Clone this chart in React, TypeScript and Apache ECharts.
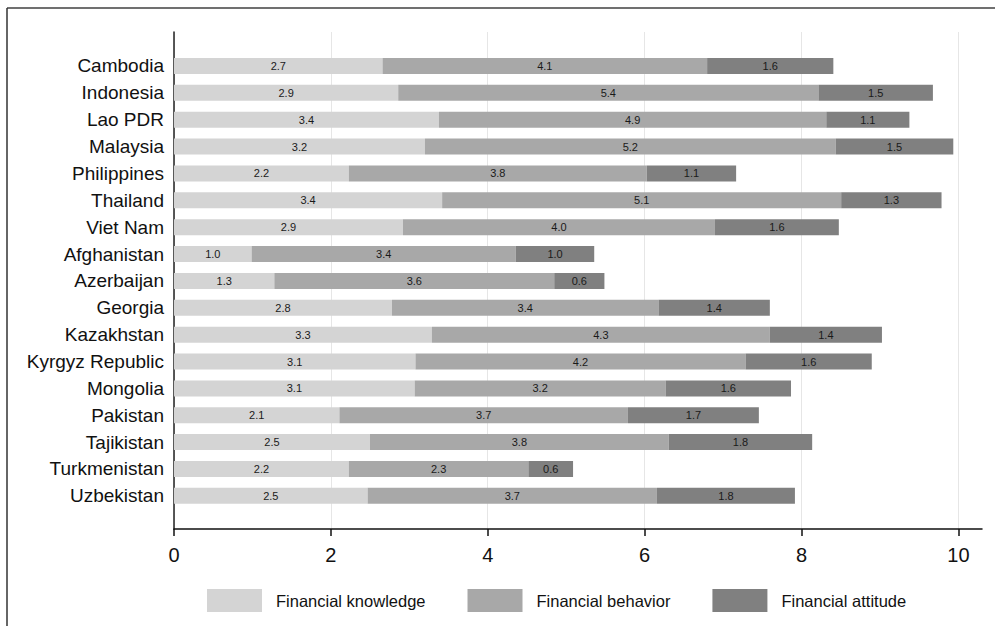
import React, { useEffect, useRef } from "react";
import * as echarts from "echarts";

const countries = [
  "Cambodia", "Indonesia", "Lao PDR", "Malaysia", "Philippines", "Thailand", "Viet Nam",
  "Afghanistan", "Azerbaijan", "Georgia", "Kazakhstan", "Kyrgyz Republic", "Mongolia",
  "Pakistan", "Tajikistan", "Turkmenistan", "Uzbekistan",
];
const knowledge = [2.66, 2.86, 3.38, 3.2, 2.23, 3.42, 2.92, 0.99, 1.28, 2.78, 3.29, 3.08, 3.07, 2.11, 2.5, 2.23, 2.47];
const behavior = [4.14, 5.36, 4.94, 5.24, 3.8, 5.09, 3.98, 3.37, 3.57, 3.4, 4.31, 4.21, 3.2, 3.68, 3.81, 2.29, 3.69];
const attitude = [1.61, 1.46, 1.06, 1.5, 1.14, 1.28, 1.58, 1.0, 0.64, 1.42, 1.43, 1.61, 1.6, 1.67, 1.83, 0.57, 1.76];
const seriesNames = ["Financial knowledge", "Financial behavior", "Financial attitude"];
const tickValues = [0, 2, 4, 6, 8, 10];

const FONT = "'Liberation Sans', Arial, Helvetica, sans-serif";
const colors = ["#d4d4d4", "#a8a8a8", "#808080"];

export default function App() {
  const ref = useRef<HTMLDivElement>(null);
  useEffect(() => {
    if (!ref.current) return;
    const chart = echarts.init(ref.current, undefined, { renderer: "svg" });
    const mkSeries = (name: string, data: number[], color: string) => ({
      name,
      type: "bar",
      stack: "total",
      xAxisIndex: 0,
      yAxisIndex: 0,
      barWidth: 16,
      data,
      itemStyle: { color },
      label: {
        show: true,
        position: "inside",
        fontSize: 11,
        fontFamily: FONT,
        color: "#1a1a1a",
        formatter: (p: any) => Number(p.value).toFixed(1),
      },
      emphasis: { disabled: true },
    });
    chart.setOption({
      animation: false,
      backgroundColor: "#ffffff",
      textStyle: { fontFamily: FONT },
      grid: [
        { left: 174, width: 784, top: 52.5, height: 456.8 },
        { left: 174, width: 784, top: 32, height: 497 },
        { left: 174, width: 808, top: 32, height: 497 },
      ],
      xAxis: [
        { type: "value", gridIndex: 0, min: 0, max: 10, show: false },
        {
          type: "value", gridIndex: 1, min: 0, max: 10, interval: 2,
          axisLine: { show: false }, axisTick: { show: false }, axisLabel: { show: false },
          splitLine: { show: true, lineStyle: { color: "#e6e6e6", width: 1 } },
        },
        {
          type: "value", gridIndex: 2, min: 0, max: 10.3, interval: 2,
          axisLine: { show: true, onZero: false, lineStyle: { color: "#111", width: 1.5 } },
          axisTick: { show: true, length: 7, customValues: tickValues, lineStyle: { color: "#111", width: 1.5 } },
          axisLabel: {
            show: true, customValues: tickValues, fontSize: 20, margin: 16, color: "#111", fontFamily: FONT,
            formatter: (v: number) => (Math.abs(v % 2) < 1e-9 ? String(v) : ""),
          },
          splitLine: { show: false },
        },
      ],
      yAxis: [
        {
          type: "category", gridIndex: 0, data: countries, inverse: true,
          axisLine: { show: false }, axisTick: { show: false },
          axisLabel: { fontSize: 19, margin: 10, color: "#111", fontFamily: FONT },
        },
        { type: "value", gridIndex: 1, min: 0, max: 1, show: false },
        {
          type: "value", gridIndex: 2, min: 0, max: 1,
          axisLine: { show: true, onZero: false, lineStyle: { color: "#222", width: 1.5 } },
          axisTick: { show: false }, axisLabel: { show: false }, splitLine: { show: false },
        },
      ],
      legend: {
        data: seriesNames,
        left: 207,
        top: 589,
        padding: 0,
        icon: "rect",
        itemWidth: 55,
        itemHeight: 23,
        itemGap: 42,
        selectedMode: false,
        textStyle: { fontSize: 16.5, color: "#111", fontFamily: FONT, padding: [0, 0, 0, 9] },
      },
      graphic: [
        { type: "line", shape: { x1: 7, y1: 8, x2: 995, y2: 8 }, style: { stroke: "#707070", lineWidth: 2 } },
        { type: "line", shape: { x1: 7, y1: 8, x2: 7, y2: 626 }, style: { stroke: "#333", lineWidth: 1.5 } },
      ],
      series: [
        mkSeries(seriesNames[0], knowledge, colors[0]),
        mkSeries(seriesNames[1], behavior, colors[1]),
        mkSeries(seriesNames[2], attitude, colors[2]),
      ],
    });
    return () => chart.dispose();
  }, []);
  return (
    <div
      ref={ref}
      style={{ position: "absolute", left: 0, top: 0, width: 995, height: 626, background: "#fff" }}
    />
  );
}
